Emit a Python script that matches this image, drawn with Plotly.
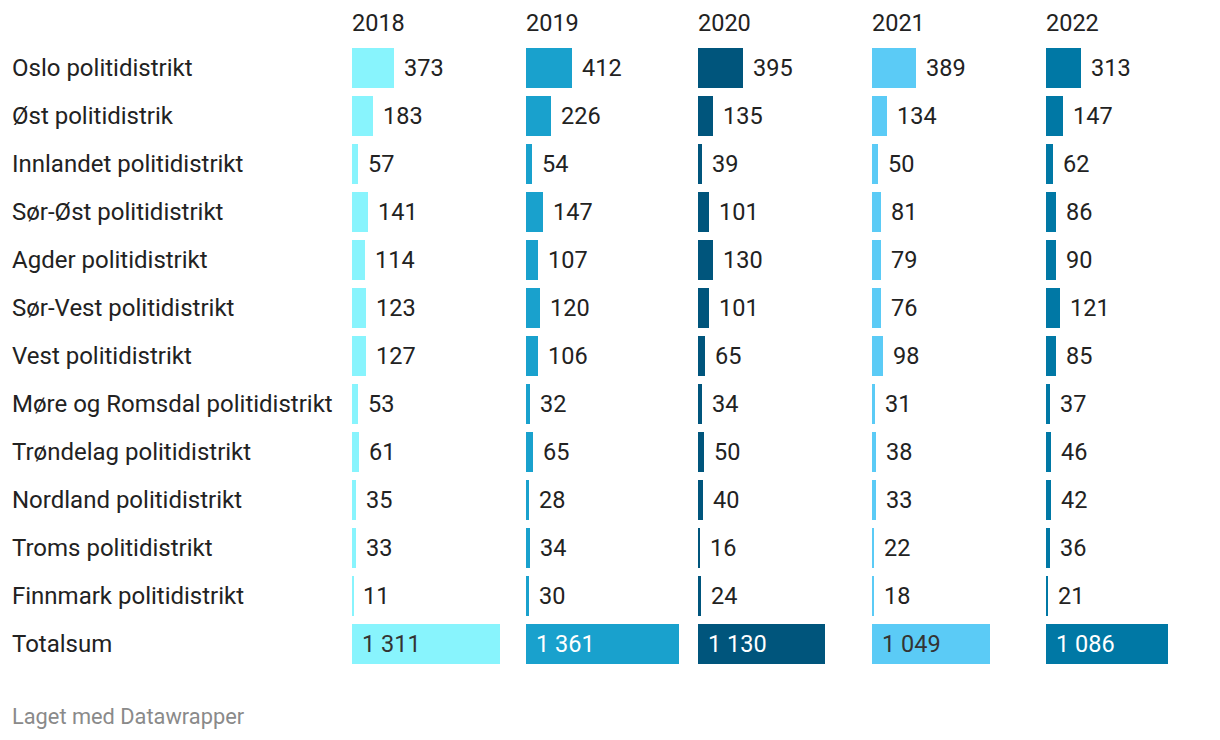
import plotly.graph_objects as go

districts = ["Oslo politidistrikt", "Øst politidistrik", "Innlandet politidistrikt",
             "Sør-Øst politidistrikt", "Agder politidistrikt", "Sør-Vest politidistrikt",
             "Vest politidistrikt", "Møre og Romsdal politidistrikt", "Trøndelag politidistrikt",
             "Nordland politidistrikt", "Troms politidistrikt", "Finnmark politidistrikt",
             "Totalsum"]
years = ["2018", "2019", "2020", "2021", "2022"]
v2018 = [373, 183, 57, 141, 114, 123, 127, 53, 61, 35, 33, 11, 1311]
v2019 = [412, 226, 54, 147, 107, 120, 106, 32, 65, 28, 34, 30, 1361]
v2020 = [395, 135, 39, 101, 130, 101, 65, 34, 50, 40, 16, 24, 1130]
v2021 = [389, 134, 50, 81, 79, 76, 98, 31, 38, 33, 22, 18, 1049]
v2022 = [313, 147, 62, 86, 90, 121, 85, 37, 46, 42, 36, 21, 1086]
series = [v2018, v2019, v2020, v2021, v2022]

colors = ["#88f4fd", "#19a1cd", "#00557c", "#5bcbf6", "#0078a5"]
total_text_colors = ["#333333", "#ffffff", "#ffffff", "#333333", "#ffffff"]

# the page adds an 8px body margin, so the plot canvas starts at (8, 8)
OFF = 8
W, H = 1220, 740
col_x = [352 - OFF, 526 - OFF, 698 - OFF, 872 - OFF, 1046 - OFF]
col_w = 165
px_per_unit = 0.1127
row_top, row_h = 44 - OFF, 48
n = len(districts)
y_top_px = row_top
y_bot_px = row_top + row_h * n

FONT = "Roboto, 'Noto Sans', sans-serif"
FS = 23.5
FS_LABEL = 24

fig = go.Figure()
annotations = []

for k, (yr, vals) in enumerate(zip(years, series)):
    ax = "" if k == 0 else str(k + 1)
    fig.add_trace(go.Bar(
        x=vals, y=districts, orientation="h",
        marker=dict(color=colors[k], line=dict(width=0)),
        width=40 / 48,
        xaxis="x" + ax, yaxis="y",
        hoverinfo="x+y", showlegend=False,
    ))
    dom = [col_x[k] / W, (col_x[k] + col_w) / W]
    fig.update_layout(**{
        ("xaxis" + ax): dict(domain=dom, range=[0, col_w / px_per_unit],
                             visible=False, fixedrange=True)
    })
    # header
    annotations.append(dict(
        x=0, y=1 - (23 - OFF) / H, xref="x" + ax, yref="paper", text=yr,
        showarrow=False, xanchor="left", yanchor="middle",
        font=dict(family=FONT, size=FS, color="#222222"), xshift=-2,
    ))
    for i, (d, v) in enumerate(zip(districts, vals)):
        txt = f"{v:,}".replace(",", " ")
        if d == "Totalsum":
            annotations.append(dict(
                x=0, y=d, xref="x" + ax, yref="y", text=txt, showarrow=False,
                xanchor="left", yanchor="middle", xshift=8,
                font=dict(family=FONT, size=FS, color=total_text_colors[k]),
            ))
        else:
            annotations.append(dict(
                x=v, y=d, xref="x" + ax, yref="y", text=txt, showarrow=False,
                xanchor="left", yanchor="middle", xshift=8,
                font=dict(family=FONT, size=FS, color="#222222"),
            ))

for d in districts:
    annotations.append(dict(
        x=4 / W, y=d, xref="paper", yref="y", text=d, showarrow=False,
        xanchor="left", yanchor="middle", xshift=-2,
        font=dict(family=FONT, size=FS_LABEL, color="#222222"),
    ))

annotations.append(dict(
    x=4 / W, y=1 - (716 - OFF) / H, xref="paper", yref="paper", text="Laget med Datawrapper",
    showarrow=False, xanchor="left", yanchor="middle", xshift=-2,
    font=dict(family=FONT, size=21.8, color="#8a8a8a"),
))

fig.update_layout(
    width=W, height=H,
    margin=dict(l=0, r=0, t=0, b=0),
    paper_bgcolor="white", plot_bgcolor="white",
    yaxis=dict(domain=[1 - y_bot_px / H, 1 - y_top_px / H],
               categoryorder="array", categoryarray=districts,
               autorange="reversed", visible=False, fixedrange=True),
    bargap=0,
    annotations=annotations,
    font=dict(family=FONT),
)

fig.write_html("out.html")
